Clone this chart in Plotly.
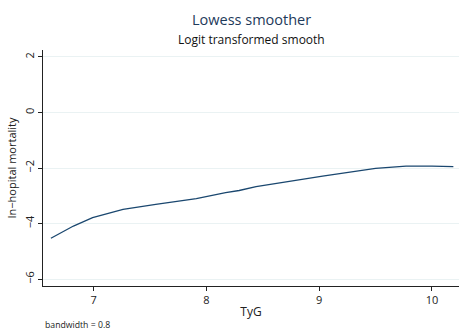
import plotly.graph_objects as go

tyg = [6.62, 6.82, 6.99, 7.26, 7.55, 7.76, 7.91, 8.17, 8.29, 8.44, 8.47, 8.68, 9.03, 9.50, 9.77, 10.0, 10.19]
logit = [-4.53, -4.09, -3.79, -3.49, -3.31, -3.19, -3.10, -2.89, -2.81, -2.67, -2.65, -2.51, -2.29, -2.01, -1.93, -1.93, -1.95]
yticks = [-6, -4, -2, 0, 2]
xticks = [7, 8, 9, 10]

fig = go.Figure()
fig.add_trace(go.Scatter(x=tyg, y=logit, mode="lines", line=dict(color="#1a476f", width=1.3), showlegend=False))

font = "Open Sans"
fig.update_layout(
    width=462, height=331,
    margin=dict(l=43, r=3, t=50, b=45, autoexpand=False),
    plot_bgcolor="white", paper_bgcolor="white",
    font=dict(family=font, color="#222", size=11),
    xaxis=dict(range=[6.55, 10.24], tickvals=xticks, ticks="outside", ticklen=4, tickcolor="#222",
               showline=True, linecolor="#222", linewidth=1, showgrid=False, zeroline=False, automargin=False,
               title=dict(text="TyG", font=dict(size=12), standoff=1), tickfont=dict(size=11)),
    yaxis=dict(range=[-6.25, 2.25], tickvals=yticks, ticktext=["\u22126", "\u22124", "\u22122", "0", "2"],
               tickangle=-90, ticks="outside", ticklen=4, tickcolor="#222",
               showline=True, linecolor="#222", linewidth=1, showgrid=True, gridcolor="#eaf2f3", gridwidth=1,
               zeroline=False, automargin=False, title=dict(text="In\u2212hopital mortality", font=dict(size=11), standoff=2),
               tickfont=dict(size=11)),
    annotations=[
        dict(text="Lowess smoother", xref="paper", yref="paper", x=0.5, y=1, yshift=31,
             xanchor="center", yanchor="middle", showarrow=False, font=dict(size=14.5, color="#1e3a5a")),
        dict(text="Logit transformed smooth", xref="paper", yref="paper", x=0.5, y=1, yshift=11,
             xanchor="center", yanchor="middle", showarrow=False, font=dict(size=12, color="#111")),
        dict(text="bandwidth = 0.8", xref="paper", yref="paper", x=0.0, y=0, yshift=-39,
             xanchor="left", yanchor="middle", showarrow=False, font=dict(size=8.7, color="#222")),
    ],
)
fig.write_html("out.html", post_script="document.body.style.margin='0';", config={"displayModeBar": False})
